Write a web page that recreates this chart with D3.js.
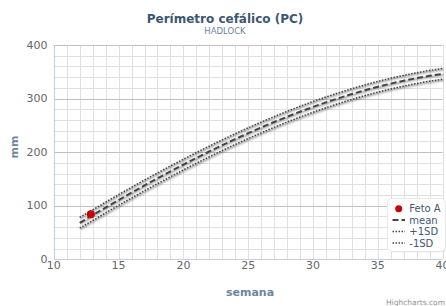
<!DOCTYPE html>
<html>
<head>
<meta charset="utf-8">
<script src="https://cdn.jsdelivr.net/npm/d3@7"></script>
<style>
  body { margin: 0; background: #fff; }
  svg { display: block; font-family: "DejaVu Sans", Verdana, sans-serif; }
</style>
</head>
<body>
<svg id="chart"></svg>
<script>
// gestational age (weeks)
const weeks = [12, 13, 14, 15, 16, 17, 18, 19, 20, 21, 22, 23, 24, 25, 26, 27, 28, 29, 30, 31, 32, 33, 34, 35, 36, 37, 38, 39, 40];
// head circumference, mm
const meanPC = [68.0, 82.4, 96.6, 110.6, 124.4, 137.9, 151.1, 164.1, 176.8, 189.2, 201.3, 213.0, 224.4, 235.4, 246.0, 256.2, 266.1, 275.5, 284.4, 292.9, 300.9, 308.4, 315.5, 322.0, 327.9, 333.3, 338.2, 342.5, 346.1];
const plus1SD = [78.0, 92.4, 106.6, 120.6, 134.4, 147.9, 161.1, 174.1, 186.8, 199.2, 211.3, 223.0, 234.4, 245.4, 256.0, 266.2, 276.1, 285.5, 294.4, 302.9, 310.9, 318.4, 325.5, 332.0, 337.9, 343.3, 348.2, 352.5, 356.1];
const minus1SD = [58.0, 72.4, 86.6, 100.6, 114.4, 127.9, 141.1, 154.1, 166.8, 179.2, 191.3, 203.0, 214.4, 225.4, 236.0, 246.2, 256.1, 265.5, 274.4, 282.9, 290.9, 298.4, 305.5, 312.0, 317.9, 323.3, 328.2, 332.5, 336.1];
// the fetus measurement
const fetoA = [{ week: 12.86, pc: 84 }];

const xTicks = [10, 15, 20, 25, 30, 35, 40];
const yTicks = [0, 100, 200, 300, 400];

const W = 446, H = 306;
const svg = d3.select('#chart').attr('width', W).attr('height', H);

const plotL = 53.8, plotR = 442.6, plotT = 45, plotB = 259.3;
const x = d3.scaleLinear().domain([10, 40]).range([plotL, plotR]);
const y = d3.scaleLinear().domain([0, 400]).range([plotB, plotT]);

/**
 * Grid.
 */
const grid = svg.append('g');
grid.selectAll('line.vminor')
    .data(d3.range(11, 41))
    .enter().append('line')
    .attr('x1', d => Math.round(x(d)) + 0.5).attr('x2', d => Math.round(x(d)) + 0.5)
    .attr('y1', plotT).attr('y2', plotB)
    .attr('stroke', '#E0E0E0');
grid.selectAll('line.hminor')
    .data(d3.range(20, 400, 20).filter(v => v % 100 !== 0))
    .enter().append('line')
    .attr('x1', plotL).attr('x2', plotR)
    .attr('y1', d => Math.round(y(d)) + 0.5).attr('y2', d => Math.round(y(d)) + 0.5)
    .attr('stroke', '#E0E0E0');
grid.selectAll('line.hmajor')
    .data(yTicks.filter(v => v > 0))
    .enter().append('line')
    .attr('x1', plotL).attr('x2', plotR)
    .attr('y1', d => Math.round(y(d)) + 0.5).attr('y2', d => Math.round(y(d)) + 0.5)
    .attr('stroke', '#C0C0C0');

// axis lines
svg.append('line')
    .attr('x1', plotL).attr('x2', plotR)
    .attr('y1', Math.round(plotB) + 0.5).attr('y2', Math.round(plotB) + 0.5)
    .attr('stroke', '#C0D0E0');
svg.append('line')
    .attr('x1', Math.round(plotL) + 0.5).attr('x2', Math.round(plotL) + 0.5)
    .attr('y1', plotT).attr('y2', plotB)
    .attr('stroke', '#C0D0E0');

/**
 * Axes labels.
 */
svg.append('g').selectAll('text')
    .data(xTicks)
    .enter().append('text')
    .attr('x', d => x(d))
    .attr('y', 269)
    .attr('text-anchor', 'middle')
    .attr('font-size', 11)
    .attr('fill', '#666')
    .text(d => d);

svg.append('g').selectAll('text')
    .data(yTicks)
    .enter().append('text')
    .attr('x', 47.5)
    .attr('y', d => y(d) + 3.5)
    .attr('text-anchor', 'end')
    .attr('font-size', 11)
    .attr('fill', '#666')
    .text(d => d);

svg.append('text')
    .attr('transform', 'translate(18,147) rotate(-90)')
    .attr('text-anchor', 'middle')
    .attr('font-size', 11)
    .attr('font-weight', 'bold')
    .attr('fill', '#6D869F')
    .text('mm');

svg.append('text')
    .attr('x', 250).attr('y', 295.5)
    .attr('text-anchor', 'middle')
    .attr('font-size', 11)
    .attr('font-weight', 'bold')
    .attr('fill', '#6D869F')
    .text('semana');

/**
 * Titles.
 */
svg.append('text')
    .attr('x', 225).attr('y', 22.5)
    .attr('text-anchor', 'middle')
    .attr('font-size', 12)
    .attr('font-weight', 'bold')
    .attr('fill', '#3E576F')
    .text('Perímetro cefálico (PC)');
svg.append('text')
    .attr('x', 225).attr('y', 34)
    .attr('text-anchor', 'middle')
    .attr('font-size', 8.5)
    .attr('fill', '#6D869F')
    .text('HADLOCK');

/**
 * Series.
 */
const series = [
    { name: 'mean', values: meanPC, dash: '6,3', width: 2 },
    { name: '+1SD', values: plus1SD, dash: '1.5,1.5', width: 1.5 },
    { name: '-1SD', values: minus1SD, dash: '1.5,1.5', width: 1.5 }
];
const line = d3.line()
    .x((d, i) => x(weeks[i]))
    .y(d => y(d));

const lines = svg.append('g');
series.forEach(s => {
    // soft shadow
    [[5, 0.05], [3, 0.1], [1, 0.15]].forEach(([w, o]) => {
        lines.append('path')
            .attr('d', line(s.values))
            .attr('transform', 'translate(1,1)')
            .attr('fill', 'none')
            .attr('stroke', '#000')
            .attr('stroke-opacity', o)
            .attr('stroke-width', w);
    });
    lines.append('path')
        .attr('d', line(s.values))
        .attr('fill', 'none')
        .attr('stroke', '#444')
        .attr('stroke-width', s.width)
        .attr('stroke-dasharray', s.dash);
});

svg.append('g').selectAll('circle')
    .data(fetoA)
    .enter().append('circle')
    .attr('cx', d => x(d.week))
    .attr('cy', d => y(d.pc))
    .attr('r', 4)
    .attr('fill', '#CC0000');

/**
 * Legend.
 */
const legend = svg.append('g').attr('transform', 'translate(387.5,198.5)');
legend.append('rect')
    .attr('x', 1).attr('y', 1)
    .attr('width', 58).attr('height', 53)
    .attr('rx', 5)
    .attr('fill', '#000').attr('opacity', 0.08);
legend.append('rect')
    .attr('width', 58).attr('height', 53)
    .attr('rx', 5)
    .attr('fill', '#fff')
    .attr('stroke', '#E8E8E8');

const items = [{ name: 'Feto A', dot: true }].concat(series);
const li = legend.selectAll('g.item')
    .data(items)
    .enter().append('g')
    .attr('transform', (d, i) => `translate(0,${10.2 + i * 11.4})`);
li.each(function (d) {
    const g = d3.select(this);
    if (d.dot) {
        g.append('circle').attr('cx', 11.2).attr('cy', 0).attr('r', 3.5).attr('fill', '#CC0000');
    } else {
        g.append('line')
            .attr('x1', 5).attr('x2', 17.5)
            .attr('y1', 0).attr('y2', 0)
            .attr('stroke', '#444')
            .attr('stroke-width', d.width)
            .attr('stroke-dasharray', d.dash);
    }
    g.append('text')
        .attr('x', 21.8).attr('y', 3.6)
        .attr('font-size', 10)
        .attr('fill', '#3E576F')
        .text(d.name);
});

svg.append('text')
    .attr('x', 445).attr('y', 304.5)
    .attr('text-anchor', 'end')
    .attr('font-size', 7.5)
    .attr('fill', '#909090')
    .text('Highcharts.com');
</script>
</body>
</html>
